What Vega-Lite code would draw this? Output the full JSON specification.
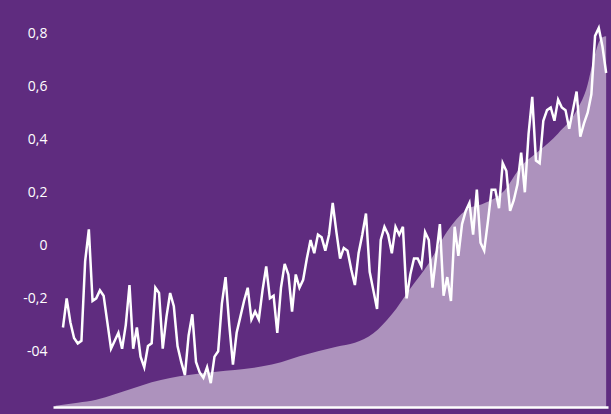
{
  "$schema": "https://vega.github.io/schema/vega-lite/v6.json",
  "width": 555,
  "height": 387,
  "autosize": {"type": "none"},
  "padding": {"left": 53, "top": 20, "right": 3, "bottom": 7},
  "background": "#5f2c7f",
  "config": {"view": {"stroke": null}, "font": "Open Sans"},
  "datasets": {
    "co2": [
      {"year": 1869, "co2": 0.14}, {"year": 1875, "co2": 0.43}, {"year": 1880, "co2": 0.74},
      {"year": 1885, "co2": 1.31}, {"year": 1890, "co2": 1.93}, {"year": 1895, "co2": 2.55},
      {"year": 1900, "co2": 3.01}, {"year": 1905, "co2": 3.32}, {"year": 1910, "co2": 3.53},
      {"year": 1915, "co2": 3.74}, {"year": 1920, "co2": 3.94}, {"year": 1925, "co2": 4.2},
      {"year": 1930, "co2": 4.62}, {"year": 1935, "co2": 5.24}, {"year": 1940, "co2": 5.75},
      {"year": 1945, "co2": 6.22}, {"year": 1950, "co2": 6.63}, {"year": 1955, "co2": 7.61},
      {"year": 1960, "co2": 9.58}, {"year": 1965, "co2": 12.26}, {"year": 1970, "co2": 14.85},
      {"year": 1975, "co2": 18.16}, {"year": 1980, "co2": 20.33}, {"year": 1985, "co2": 21.05},
      {"year": 1990, "co2": 22.19}, {"year": 1995, "co2": 24.87}, {"year": 2000, "co2": 26.53},
      {"year": 2005, "co2": 28.28}, {"year": 2010, "co2": 30.66}, {"year": 2013, "co2": 33.35},
      {"year": 2014, "co2": 35.0}, {"year": 2015, "co2": 36.45}, {"year": 2016, "co2": 37.69},
      {"year": 2017, "co2": 38.21}, {"year": 2018, "co2": 38.31}
    ],
    "temp": [
      {"year": 1871, "anomaly": -0.31}, {"year": 1872, "anomaly": -0.2}, {"year": 1873, "anomaly": -0.29},
      {"year": 1874, "anomaly": -0.35}, {"year": 1875, "anomaly": -0.37}, {"year": 1876, "anomaly": -0.36},
      {"year": 1877, "anomaly": -0.06}, {"year": 1878, "anomaly": 0.06}, {"year": 1879, "anomaly": -0.21},
      {"year": 1880, "anomaly": -0.2}, {"year": 1881, "anomaly": -0.17}, {"year": 1882, "anomaly": -0.19},
      {"year": 1883, "anomaly": -0.29}, {"year": 1884, "anomaly": -0.39}, {"year": 1885, "anomaly": -0.36},
      {"year": 1886, "anomaly": -0.33}, {"year": 1887, "anomaly": -0.39}, {"year": 1888, "anomaly": -0.3},
      {"year": 1889, "anomaly": -0.15}, {"year": 1890, "anomaly": -0.39}, {"year": 1891, "anomaly": -0.31},
      {"year": 1892, "anomaly": -0.42}, {"year": 1893, "anomaly": -0.46}, {"year": 1894, "anomaly": -0.38},
      {"year": 1895, "anomaly": -0.37}, {"year": 1896, "anomaly": -0.16}, {"year": 1897, "anomaly": -0.18},
      {"year": 1898, "anomaly": -0.39}, {"year": 1899, "anomaly": -0.27}, {"year": 1900, "anomaly": -0.18},
      {"year": 1901, "anomaly": -0.23}, {"year": 1902, "anomaly": -0.38}, {"year": 1903, "anomaly": -0.44},
      {"year": 1904, "anomaly": -0.49}, {"year": 1905, "anomaly": -0.34}, {"year": 1906, "anomaly": -0.26},
      {"year": 1907, "anomaly": -0.44}, {"year": 1908, "anomaly": -0.48}, {"year": 1909, "anomaly": -0.5},
      {"year": 1910, "anomaly": -0.46}, {"year": 1911, "anomaly": -0.52}, {"year": 1912, "anomaly": -0.42},
      {"year": 1913, "anomaly": -0.4}, {"year": 1914, "anomaly": -0.22}, {"year": 1915, "anomaly": -0.12},
      {"year": 1916, "anomaly": -0.3}, {"year": 1917, "anomaly": -0.45}, {"year": 1918, "anomaly": -0.33},
      {"year": 1919, "anomaly": -0.27}, {"year": 1920, "anomaly": -0.21}, {"year": 1921, "anomaly": -0.16},
      {"year": 1922, "anomaly": -0.28}, {"year": 1923, "anomaly": -0.25}, {"year": 1924, "anomaly": -0.28},
      {"year": 1925, "anomaly": -0.17}, {"year": 1926, "anomaly": -0.08}, {"year": 1927, "anomaly": -0.2},
      {"year": 1928, "anomaly": -0.19}, {"year": 1929, "anomaly": -0.33}, {"year": 1930, "anomaly": -0.16},
      {"year": 1931, "anomaly": -0.07}, {"year": 1932, "anomaly": -0.11}, {"year": 1933, "anomaly": -0.25},
      {"year": 1934, "anomaly": -0.11}, {"year": 1935, "anomaly": -0.16}, {"year": 1936, "anomaly": -0.13},
      {"year": 1937, "anomaly": -0.05}, {"year": 1938, "anomaly": 0.02}, {"year": 1939, "anomaly": -0.03},
      {"year": 1940, "anomaly": 0.04}, {"year": 1941, "anomaly": 0.03}, {"year": 1942, "anomaly": -0.02},
      {"year": 1943, "anomaly": 0.04}, {"year": 1944, "anomaly": 0.16}, {"year": 1945, "anomaly": 0.05},
      {"year": 1946, "anomaly": -0.05}, {"year": 1947, "anomaly": -0.01}, {"year": 1948, "anomaly": -0.02},
      {"year": 1949, "anomaly": -0.09}, {"year": 1950, "anomaly": -0.15}, {"year": 1951, "anomaly": -0.03},
      {"year": 1952, "anomaly": 0.04}, {"year": 1953, "anomaly": 0.12}, {"year": 1954, "anomaly": -0.1},
      {"year": 1955, "anomaly": -0.17}, {"year": 1956, "anomaly": -0.24}, {"year": 1957, "anomaly": 0.02},
      {"year": 1958, "anomaly": 0.07}, {"year": 1959, "anomaly": 0.04}, {"year": 1960, "anomaly": -0.03},
      {"year": 1961, "anomaly": 0.07}, {"year": 1962, "anomaly": 0.04}, {"year": 1963, "anomaly": 0.07},
      {"year": 1964, "anomaly": -0.2}, {"year": 1965, "anomaly": -0.11}, {"year": 1966, "anomaly": -0.05},
      {"year": 1967, "anomaly": -0.05}, {"year": 1968, "anomaly": -0.08}, {"year": 1969, "anomaly": 0.05},
      {"year": 1970, "anomaly": 0.02}, {"year": 1971, "anomaly": -0.16}, {"year": 1972, "anomaly": -0.04},
      {"year": 1973, "anomaly": 0.08}, {"year": 1974, "anomaly": -0.19}, {"year": 1975, "anomaly": -0.12},
      {"year": 1976, "anomaly": -0.21}, {"year": 1977, "anomaly": 0.07}, {"year": 1978, "anomaly": -0.04},
      {"year": 1979, "anomaly": 0.08}, {"year": 1980, "anomaly": 0.13}, {"year": 1981, "anomaly": 0.16},
      {"year": 1982, "anomaly": 0.04}, {"year": 1983, "anomaly": 0.21}, {"year": 1984, "anomaly": 0.01},
      {"year": 1985, "anomaly": -0.02}, {"year": 1986, "anomaly": 0.09}, {"year": 1987, "anomaly": 0.21},
      {"year": 1988, "anomaly": 0.21}, {"year": 1989, "anomaly": 0.14}, {"year": 1990, "anomaly": 0.31},
      {"year": 1991, "anomaly": 0.28}, {"year": 1992, "anomaly": 0.13}, {"year": 1993, "anomaly": 0.17},
      {"year": 1994, "anomaly": 0.23}, {"year": 1995, "anomaly": 0.35}, {"year": 1996, "anomaly": 0.2},
      {"year": 1997, "anomaly": 0.42}, {"year": 1998, "anomaly": 0.56}, {"year": 1999, "anomaly": 0.32},
      {"year": 2000, "anomaly": 0.31}, {"year": 2001, "anomaly": 0.47}, {"year": 2002, "anomaly": 0.51},
      {"year": 2003, "anomaly": 0.52}, {"year": 2004, "anomaly": 0.47}, {"year": 2005, "anomaly": 0.55},
      {"year": 2006, "anomaly": 0.52}, {"year": 2007, "anomaly": 0.51}, {"year": 2008, "anomaly": 0.44},
      {"year": 2009, "anomaly": 0.51}, {"year": 2010, "anomaly": 0.58}, {"year": 2011, "anomaly": 0.41},
      {"year": 2012, "anomaly": 0.46}, {"year": 2013, "anomaly": 0.5}, {"year": 2014, "anomaly": 0.57},
      {"year": 2015, "anomaly": 0.79}, {"year": 2016, "anomaly": 0.82}, {"year": 2017, "anomaly": 0.75},
      {"year": 2018, "anomaly": 0.65}
    ]
  },
  "layer": [
    {
      "data": {"name": "co2"},
      "mark": {"type": "area", "color": "#ad92bd", "interpolate": "monotone"},
      "encoding": {
        "x": {
          "field": "year", "type": "quantitative",
          "scale": {"domain": [1868.3, 2018.5], "nice": false, "zero": false},
          "axis": {"labels": false, "ticks": false, "grid": false, "domain": true, "domainColor": "#ffffff", "domainWidth": 2.5, "title": null, "zindex": 1}
        },
        "y": {"field": "co2", "type": "quantitative", "scale": {"domain": [0, 40], "nice": false}, "axis": null}
      }
    },
    {
      "data": {"name": "temp"},
      "mark": {"type": "line", "color": "#ffffff", "strokeWidth": 2.5, "strokeJoin": "miter"},
      "encoding": {
        "x": {"field": "year", "type": "quantitative"},
        "y": {
          "field": "anomaly", "type": "quantitative",
          "scale": {"domain": [-0.61, 0.85], "nice": false, "zero": false},
          "axis": {
            "values": [-0.4, -0.2, 0, 0.2, 0.4, 0.6, 0.8],
            "labelExpr": "datum.value == -0.4 ? '-04' : datum.value == 0 ? '0' : (datum.value < 0 ? '-' : '') + replace(format(abs(datum.value), '.1f'), '.', ',')",
            "labelColor": "#ffffff", "labelFontSize": 14, "labelPadding": 6,
            "ticks": false, "domain": false, "grid": false, "title": null
          }
        }
      }
    }
  ],
  "resolve": {"scale": {"y": "independent"}}
}
